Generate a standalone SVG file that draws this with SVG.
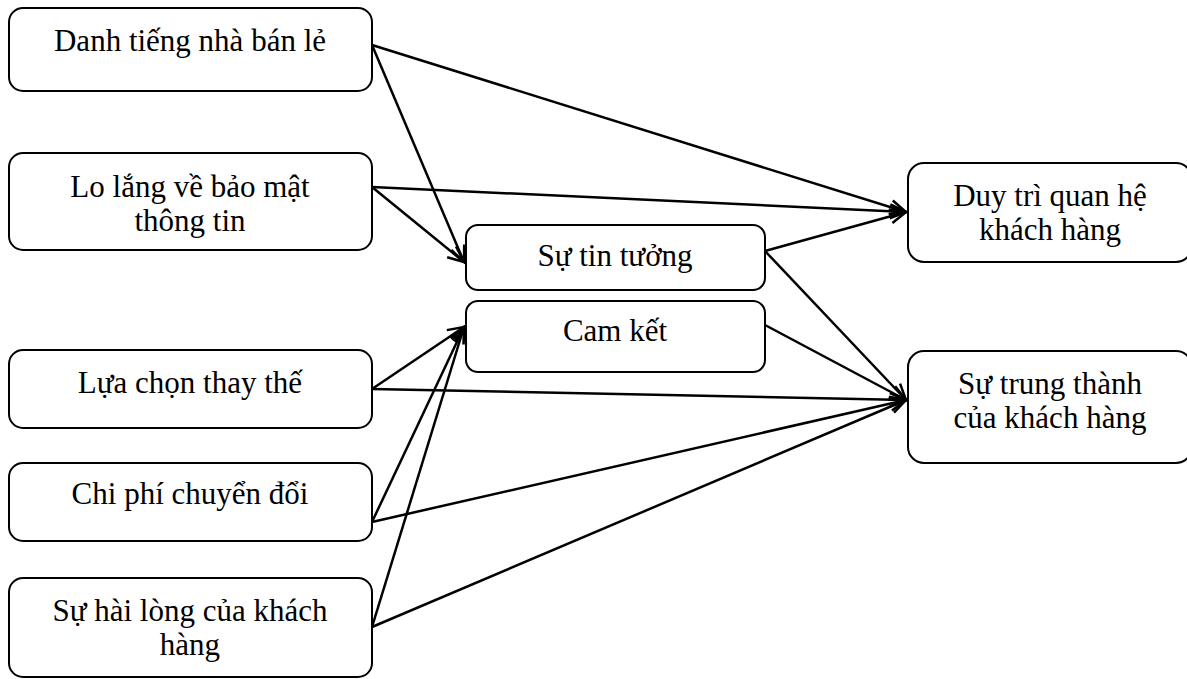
<svg xmlns="http://www.w3.org/2000/svg" width="1187" height="679" viewBox="0 0 1187 679">
<defs>
<marker id="arr" viewBox="0 0 20 20" refX="18" refY="10" markerWidth="20" markerHeight="20" markerUnits="userSpaceOnUse" orient="auto">
<polyline points="2,3 18,10 2,17" fill="none" stroke="#000" stroke-width="2.5"/>
</marker>
<style>
.box{fill:#fff;stroke:#000;stroke-width:2}
.t{font-family:"Liberation Serif","Times New Roman",serif;font-size:31px;fill:#000;text-anchor:middle}
.c line{stroke:#000;stroke-width:2.5;marker-end:url(#arr)}
</style>
</defs>
<rect width="1187" height="679" fill="#fff"/>
<g id="n1"><rect class="box" x="9" y="8" width="363" height="83" rx="14"/><text class="t" x="190" y="51">Danh tiếng nhà bán lẻ</text></g>
<g id="n2"><rect class="box" x="9" y="153" width="363" height="97" rx="14"/><text class="t" x="190" y="197">Lo lắng về bảo mật</text><text class="t" x="190" y="231">thông tin</text></g>
<g id="n3"><rect class="box" x="9" y="350" width="363" height="78" rx="14"/><text class="t" x="190" y="393">Lựa chọn thay thế</text></g>
<g id="n4"><rect class="box" x="9" y="463" width="363" height="78" rx="14"/><text class="t" x="190" y="504">Chi phí chuyển đổi</text></g>
<g id="n5"><rect class="box" x="9" y="578" width="363" height="99" rx="14"/><text class="t" x="190" y="621">Sự hài lòng của khách</text><text class="t" x="190" y="655">hàng</text></g>
<g id="n6"><rect class="box" x="466" y="225" width="299" height="65" rx="12"/><text class="t" x="615" y="266">Sự tin tưởng</text></g>
<g id="n7"><rect class="box" x="466" y="301" width="299" height="71" rx="12"/><text class="t" x="615" y="341">Cam kết</text></g>
<g id="n8"><rect class="box" x="908" y="163" width="284" height="99" rx="16"/><text class="t" x="1050" y="206">Duy trì quan hệ</text><text class="t" x="1050" y="240">khách hàng</text></g>
<g id="n9"><rect class="box" x="908" y="351" width="284" height="112" rx="16"/><text class="t" x="1050" y="394">Sự trung thành</text><text class="t" x="1050" y="428">của khách hàng</text></g>
<g id="connectors" class="c">
<line x1="372" y1="45" x2="906" y2="212"/>
<line x1="372" y1="45" x2="464" y2="262"/>
<line x1="372" y1="187" x2="906" y2="212"/>
<line x1="372" y1="187" x2="464" y2="262"/>
<line x1="765" y1="251" x2="906" y2="212"/>
<line x1="765" y1="251" x2="906" y2="400"/>
<line x1="765" y1="325" x2="906" y2="400"/>
<line x1="372" y1="389" x2="464" y2="327"/>
<line x1="372" y1="389" x2="906" y2="400"/>
<line x1="372" y1="522" x2="464" y2="327"/>
<line x1="372" y1="522" x2="906" y2="400"/>
<line x1="372" y1="627" x2="464" y2="327"/>
<line x1="372" y1="627" x2="906" y2="400"/>
</g>
</svg>
